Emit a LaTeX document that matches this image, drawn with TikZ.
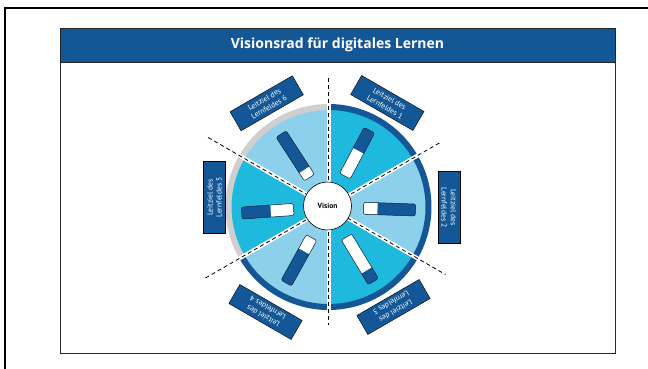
\documentclass[tikz,border=0pt]{standalone}
\usepackage{fontspec}
\setmainfont{PT Sans}
\newfontfamily\titlefont{Open Sans}
\definecolor{dblue}{HTML}{145796}
\definecolor{segcyan}{HTML}{1EB9DC}
\definecolor{seglight}{HTML}{8CD0EB}
\definecolor{ringgray}{HTML}{CFCFCF}
\tikzset{
  lab/.style={draw=black, line width=0.4pt, fill=dblue, text=white,
    font=\fontsize{7.6}{9.2}\selectfont, align=center,
    minimum width=72pt, minimum height=22pt, inner sep=1pt},
  divider/.style={draw=black, line width=0.8pt, dash pattern=on 4pt off 3pt},
  gapline/.style={draw=white, line width=4pt},
  ringline/.style={line width=6pt},
}
\newcommand\wsector[3]{\fill[#3] (0,0) -- (#1:100) arc[start angle=#1, end angle=#2, radius=100] -- cycle;}
\newcommand\progbar[2]{%
  \begin{scope}[rotate=#1]
    \fill[dblue, rounded corners=2pt] (35,-6) rectangle (87,6);
    \begin{scope}
      \clip (34,-7) rectangle ({35+52*#2},7);
      \fill[white, rounded corners=2pt] (35,-6) rectangle (87,6);
    \end{scope}
    \draw[black!60!dblue, line width=0.5pt, rounded corners=2pt] (35,-6) rectangle (87,6);
  \end{scope}}
\begin{document}
\begin{tikzpicture}[x=1pt,y=1pt]
\useasboundingbox (0,0) rectangle (648,369);
\fill[white] (0,0) rectangle (648,369);
% outer frame
\draw[line width=2pt] (5,0) -- (5,361) -- (648,361);
% panel and title band
\node[draw=black!85, line width=0.7pt, minimum width=555pt, minimum height=325pt, inner sep=0] (panel) at (337.5,178.5) {};
\node[draw=black!85, line width=0.7pt, fill=dblue, text=white, minimum width=555pt, minimum height=34pt, inner sep=0,
  font=\titlefont\bfseries\fontsize{14}{16}\selectfont] (title) at (337.5,324) {Visionsrad für digitales Lernen};
% wheel
\begin{scope}[shift={(328.5,162)}]
  \coordinate (c) at (0,0);
  \wsector{30}{90}{segcyan}
  \wsector{-30}{30}{seglight}
  \wsector{-90}{-30}{segcyan}
  \wsector{210}{270}{seglight}
  \wsector{150}{210}{segcyan}
  \wsector{90}{150}{seglight}
  \draw[ringline, dblue] (-150:100) arc[start angle=-150, end angle=90, radius=100];
  \draw[ringline, ringgray] (90:100) arc[start angle=90, end angle=210, radius=100];
  \draw[gapline] (90:108) -- (-90:108);
  \draw[gapline] (30:108) -- (210:108);
  \draw[gapline] (150:108) -- (-30:108);
  \coordinate (dTop) at (90:129);
  \coordinate (dBot) at (-90:118);
  \coordinate (dUL) at (150:139);
  \coordinate (dLR) at (-30:135);
  \coordinate (dUR) at (30:128);
  \coordinate (dLL) at (210:143);
  \draw[divider] (dTop) -- (dBot);
  \draw[divider] (dUL) -- (dLR);
  \draw[divider] (dUR) -- (dLL);
  \progbar{62}{0.55}
  \progbar{-2}{0.27}
  \progbar{-59}{0.75}
  \progbar{241}{0.30}
  \progbar{184}{0.44}
  \progbar{123}{0.18}
  \node[circle, draw=black, line width=0.6pt, fill=white, minimum size=48pt, inner sep=0,
    font=\bfseries\fontsize{7.5}{9}\selectfont] (vision) at (-1,1) {Vision};
  \node[lab, rotate=-30] (l1) at (58.8,104) {Leitziel des\\Lernfeldes 1};
  \node[lab, rotate=-90] (l2) at (120.3,-0.5) {Leitziel des\\Lernfeldes 2};
  \node[lab, rotate=210] (l3) at (65,-100) {Leitziel des\\Lernfeldes 3};
  \node[lab, rotate=150] (l4) at (-63,-105) {Leitziel des\\Lernfeldes 4};
  \node[lab, rotate=90] (l5) at (-114,9.5) {Leitziel des\\Lernfeldes 5};
  \node[lab, rotate=30] (l6) at (-61.8,103.7) {Leitziel des\\Lernfeldes 6};
\end{scope}
\end{tikzpicture}
\end{document}
